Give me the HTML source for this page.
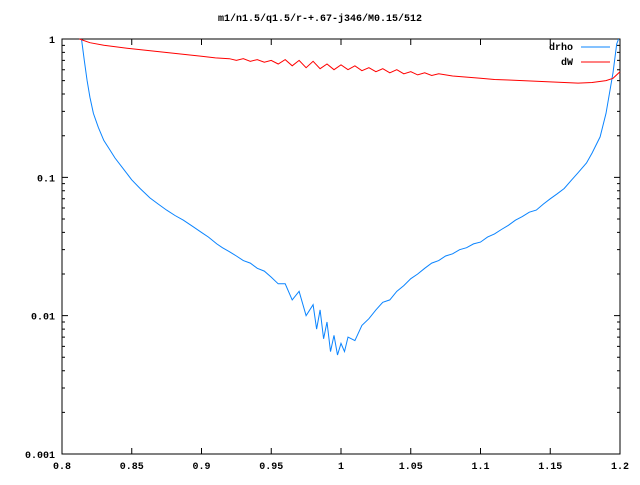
<!DOCTYPE html>
<html><head><meta charset="utf-8"><style>
body{margin:0;background:#fff}
svg text{font-family:"Liberation Mono",monospace;font-weight:bold;font-size:10px;fill:#000}
</style></head><body>
<svg id="chart" width="640" height="480" xmlns="http://www.w3.org/2000/svg">
<rect width="640" height="480" fill="#fff"/>
<text x="320" y="21" text-anchor="middle">m1/n1.5/q1.5/r-+.67-j346/M0.15/512</text>
<g id="axes"></g>
<g id="series"></g>
<g>
<text x="573" y="50" text-anchor="end">drho</text>
<line x1="581" y1="47" x2="610" y2="47" stroke="#0a84ff"/>
<text x="573" y="65" text-anchor="end">dW</text>
<line x1="581" y1="62" x2="610" y2="62" stroke="#f00"/>
</g>
</svg>
<script>
const xTicks=[0.8,0.85,0.9,0.95,1,1.05,1.1,1.15,1.2];
const xTickLabels=["0.8","0.85","0.9","0.95","1","1.05","1.1","1.15","1.2"];
const yTicks=[1,0.1,0.01,0.001];
const yTickLabels=["1","0.1","0.01","0.001"];
const drhoX=[0.814,0.816,0.818,0.82,0.8225,0.826,0.83,0.834,0.838,0.844,0.85,0.856,0.863,0.869,0.875,0.881,0.887,0.894,0.9,0.905,0.911,0.915,0.92,0.925,0.93,0.935,0.94,0.945,0.95,0.955,0.96,0.965,0.97,0.975,0.98,0.9825,0.985,0.9875,0.99,0.9925,0.995,0.9975,1.0,1.0025,1.005,1.01,1.015,1.02,1.025,1.03,1.035,1.04,1.045,1.05,1.055,1.06,1.065,1.07,1.075,1.08,1.085,1.09,1.095,1.1,1.105,1.11,1.115,1.12,1.125,1.13,1.135,1.14,1.145,1.15,1.155,1.16,1.165,1.17,1.176,1.18,1.1857,1.19,1.195,1.1976,1.199];
const drhoY=[1.0,0.7,0.5,0.38,0.29,0.23,0.185,0.16,0.138,0.115,0.096,0.083,0.071,0.064,0.058,0.053,0.049,0.044,0.04,0.037,0.033,0.031,0.029,0.027,0.025,0.024,0.022,0.021,0.019,0.017,0.017,0.013,0.015,0.01,0.012,0.008,0.011,0.0068,0.009,0.0055,0.0072,0.0052,0.0063,0.0055,0.007,0.0066,0.0085,0.0095,0.011,0.0125,0.013,0.015,0.0165,0.0185,0.02,0.022,0.024,0.025,0.027,0.028,0.03,0.031,0.033,0.034,0.037,0.039,0.042,0.045,0.049,0.052,0.056,0.058,0.064,0.07,0.076,0.083,0.095,0.108,0.127,0.15,0.196,0.29,0.57,0.92,1.0];
const dwX=[0.8125,0.82,0.83,0.85,0.87,0.89,0.9,0.91,0.92,0.925,0.93,0.935,0.94,0.945,0.95,0.955,0.96,0.965,0.97,0.975,0.98,0.985,0.99,0.995,1.0,1.005,1.01,1.015,1.02,1.025,1.03,1.035,1.04,1.045,1.05,1.055,1.06,1.065,1.07,1.08,1.09,1.1,1.11,1.12,1.13,1.14,1.15,1.16,1.17,1.18,1.19,1.195,1.2];
const dwY=[1.0,0.94,0.9,0.85,0.81,0.77,0.75,0.73,0.72,0.7,0.72,0.69,0.71,0.68,0.7,0.66,0.71,0.64,0.7,0.62,0.69,0.61,0.66,0.6,0.65,0.6,0.64,0.59,0.62,0.58,0.61,0.57,0.6,0.56,0.58,0.55,0.57,0.545,0.56,0.54,0.53,0.52,0.51,0.505,0.5,0.495,0.49,0.485,0.48,0.485,0.5,0.52,0.58];
const L=62,R=620,T=39,B=454;
const sx=v=>L+(v-0.8)/(0.4)*(R-L);
const sy=v=>T+(-Math.log10(v))/3*(B-T);
const NS="http://www.w3.org/2000/svg";
const axes=document.getElementById('axes');
function mk(tag,attrs,parent){const e=document.createElementNS(NS,tag);for(const k in attrs)e.setAttribute(k,attrs[k]);parent.appendChild(e);return e;}
const frame=mk('rect',{x:L,y:T,width:R-L,height:B-T,fill:'none',stroke:'#000'},axes);


xTicks.forEach((v,i)=>{const x=sx(v);
 const t=mk('path',{d:`M${x},${B}v-6M${x},${T}v6`,stroke:'#000'},axes);
 
 
 const tx=mk('text',{x:x,y:B+15,'text-anchor':'middle'},axes);tx.textContent=xTickLabels[i];
 
 
});
yTicks.forEach((v,i)=>{const y=sy(v);
 const t=mk('path',{d:`M${L},${y}h6M${R},${y}h-6`,stroke:'#000'},axes);
 
 
 const tx=mk('text',{x:L-7,y:y+4,'text-anchor':'end'},axes);tx.textContent=yTickLabels[i];
 
 
 if(v>0.001){for(let m=2;m<10;m++){const yy=sy(v/10*m);
  const mt=mk('path',{d:`M${L},${yy}h3M${R},${yy}h-3`,stroke:'#000'},axes);
  
  }}
});
const ser=document.getElementById('series');
function line(xs,ys,color,name){
 const d=xs.map((x,i)=>(i?'L':'M')+sx(x).toFixed(1)+','+sy(ys[i]).toFixed(1)).join('');
 const p=mk('path',{d:d,fill:'none',stroke:color,'stroke-width':1},ser);
 
 
}
line(drhoX,drhoY,'#0a84ff','drho-line');
line(dwX,dwY,'#f00','dw-line');
</script>
</body></html>
